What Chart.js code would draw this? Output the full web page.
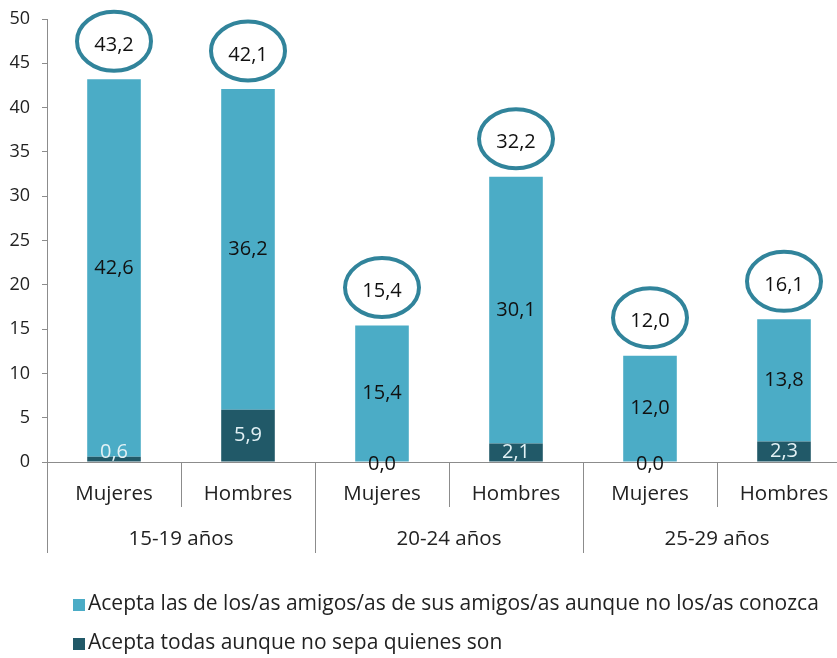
<!DOCTYPE html>
<html>
<head>
<meta charset="utf-8">
<script src="https://cdn.jsdelivr.net/npm/chart.js@4.4.1/dist/chart.umd.min.js"></script>
<style>
  html, body { margin: 0; padding: 0; background: #fff; overflow: hidden; }
  #wrap { width: 860px; height: 658px; }
</style>
</head>
<body>
<div id="wrap"><canvas id="chart" width="860" height="658"></canvas></div>
<script>
const categories = ['Mujeres', 'Hombres', 'Mujeres', 'Hombres', 'Mujeres', 'Hombres'];
const ageGroups = ['15-19 años', '20-24 años', '25-29 años'];
const seriesNames = [
  'Acepta todas aunque no sepa quienes son',
  'Acepta las de los/as amigos/as de sus amigos/as aunque no los/as conozca',
];
const todasValues = [0.6, 5.9, 0.0, 2.1, 0.0, 2.3];
const amigosValues = [42.6, 36.2, 15.4, 30.1, 12.0, 13.8];
const yMin = 0, yMax = 50, yStep = 5;

const DARK = '#215968';
const LIGHT = '#4BACC6';
const RING = '#31849B';
const AXIS = '#8c8c8c';
const FONT = '"Open Sans", "Noto Sans", sans-serif';

const fmt = (v) => v.toFixed(1).replace('.', ',');

const labelsPlugin = {
  id: 'labelsPlugin',
  afterDatasetsDraw(chart) {
    const ctx = chart.ctx;
    const yScale = chart.scales.y;
    const zero = yScale.getPixelForValue(0);
    const darkMeta = chart.getDatasetMeta(0);
    const lightMeta = chart.getDatasetMeta(1);
    ctx.save();
    ctx.font = '20px ' + FONT;
    ctx.textAlign = 'center';
    ctx.textBaseline = 'middle';
    categories.forEach((c, i) => {
      const dark = darkMeta.data[i];
      const light = lightMeta.data[i];
      // light segment value
      ctx.fillStyle = '#111';
      ctx.fillText(fmt(amigosValues[i]), light.x, (light.y + light.base) / 2);
      // dark segment value
      if (todasValues[i] === 0) {
        ctx.fillStyle = '#111';
        ctx.fillText(fmt(todasValues[i]), dark.x, zero + 2);
      } else {
        ctx.fillStyle = '#e2f1f5';
        ctx.fillText(fmt(todasValues[i]), dark.x, Math.min((dark.y + dark.base) / 2, zero - 10));
      }
      // total in a ring
      const total = todasValues[i] + amigosValues[i];
      const top = yScale.getPixelForValue(total);
      ctx.beginPath();
      ctx.ellipse(light.x, top - 38, 37, 29.5, 0, 0, Math.PI * 2);
      ctx.lineWidth = 4;
      ctx.strokeStyle = RING;
      ctx.stroke();
      ctx.fillStyle = '#111';
      ctx.fillText(fmt(total), light.x, top - 34);
    });
    ctx.restore();
  },
  afterDraw(chart) {
    const ctx = chart.ctx;
    const xScale = chart.scales.x;
    const zero = chart.scales.y.getPixelForValue(0);
    const catW = (xScale.right - xScale.left) / categories.length;
    ctx.save();
    // separators under the axis
    ctx.strokeStyle = AXIS;
    ctx.lineWidth = 1;
    for (let i = 0; i <= categories.length; i++) {
      const px = Math.round(xScale.left + i * catW) + 0.5;
      ctx.beginPath();
      ctx.moveTo(px, zero);
      ctx.lineTo(px, i % 2 === 0 ? 553 : 507);
      ctx.stroke();
    }
    // category labels
    ctx.fillStyle = '#222';
    ctx.font = '20.5px ' + FONT;
    ctx.textAlign = 'center';
    ctx.textBaseline = 'alphabetic';
    categories.forEach((c, i) => {
      ctx.fillText(c, xScale.getPixelForValue(i), 500);
    });
    ageGroups.forEach((g, j) => {
      ctx.fillText(g, xScale.left + (2 * j + 1) * catW, 545);
    });
    // legend (light series first)
    ctx.font = '21px ' + FONT;
    ctx.textAlign = 'left';
    const legendRows = [
      { name: seriesNames[1], color: LIGHT, y: 599 },
      { name: seriesNames[0], color: DARK, y: 638 },
    ];
    legendRows.forEach((r) => {
      ctx.fillStyle = r.color;
      ctx.fillRect(73, r.y, 12, 12);
      ctx.fillStyle = '#222';
      ctx.fillText(r.name, 88, r.y + 11);
    });
    ctx.restore();
  },
};

new Chart(document.getElementById('chart'), {
  type: 'bar',
  data: {
    labels: categories,
    datasets: [
      {
        label: seriesNames[0],
        data: todasValues,
        backgroundColor: DARK,
        categoryPercentage: 1,
        barPercentage: 0.4,
      },
      {
        label: seriesNames[1],
        data: amigosValues,
        backgroundColor: LIGHT,
        categoryPercentage: 1,
        barPercentage: 0.4,
      },
    ],
  },
  options: {
    responsive: false,
    animation: false,
    layout: { padding: { top: 19, right: 9, left: 0, bottom: 0 } },
    plugins: {
      legend: { display: false },
      tooltip: { enabled: false },
    },
    scales: {
      x: {
        stacked: true,
        grid: { display: false },
        ticks: { display: false },
        border: { display: true, color: AXIS },
        afterFit: (s) => { s.height = 196; },
      },
      y: {
        stacked: true,
        min: yMin,
        max: yMax,
        ticks: {
          stepSize: yStep,
          padding: 12,
          color: '#222',
          font: { family: FONT, size: 18 },
        },
        grid: { drawOnChartArea: false, tickLength: 5, color: AXIS },
        border: { color: AXIS },
        afterFit: (s) => {
          s.width = 47;
          s.paddingTop = 0;
          s.paddingBottom = 0;
        },
      },
    },
  },
  plugins: [labelsPlugin],
});
</script>
</body>
</html>
